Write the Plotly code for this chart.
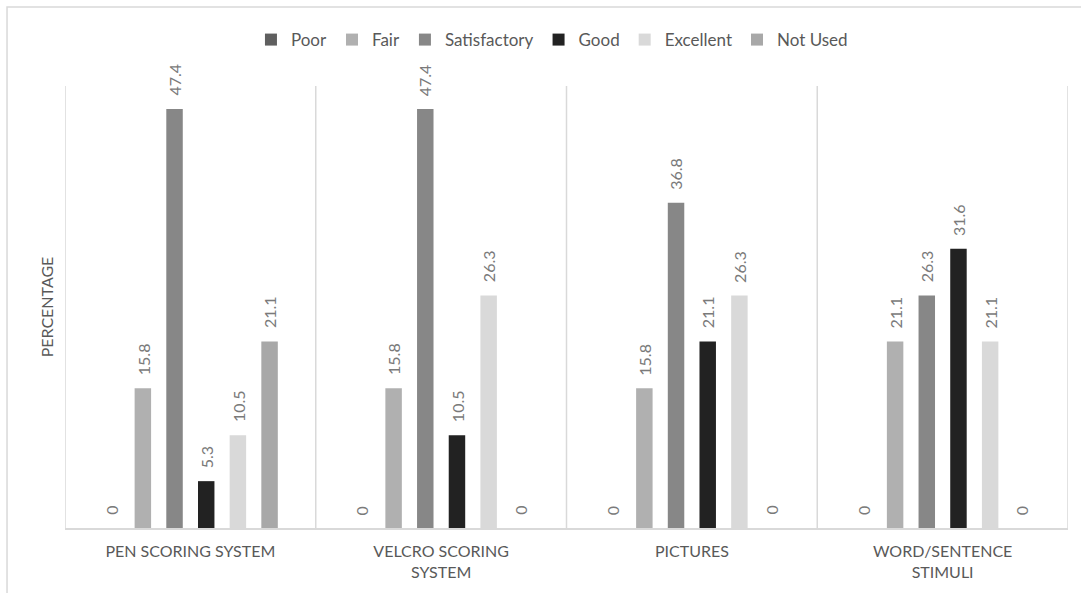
import plotly.graph_objects as go

# Rating categories and the share of respondents (%) per rating
categories = ["PEN SCORING SYSTEM", "VELCRO SCORING<br>SYSTEM", "PICTURES", "WORD/SENTENCE<br>STIMULI"]
series_names = ["Poor", "Fair", "Satisfactory", "Good", "Excellent", "Not Used"]
poor = [0, 0, 0, 0]
fair = [15.8, 15.8, 15.8, 21.1]
satisfactory = [47.4, 47.4, 36.8, 26.3]
good = [5.3, 10.5, 21.1, 31.6]
excellent = [10.5, 26.3, 26.3, 21.1]
not_used = [21.1, 0, 0, 0]

values = [poor, fair, satisfactory, good, excellent, not_used]
colors = ["#5f5f5f", "#b0b0b0", "#878787", "#222222", "#d9d9d9", "#a8a8a8"]

FONT = "Lato, 'Open Sans', sans-serif"
TEXT_DARK = "#595959"
LABEL_GREY = "#7a7a7a"
LINE_GREY = "#d9d9d9"
BARGAP = 0.242

x_idx = list(range(len(categories)))

fig = go.Figure()
for name, vals, col in zip(series_names, values, colors):
    fig.add_trace(go.Bar(
        name=name, x=x_idx, y=vals,
        marker=dict(color=col, line=dict(width=0)),
        hoverinfo="x+y+name",
    ))

# Value labels above each bar, rotated to read bottom-up
n = len(series_names)
slot = (1 - BARGAP) / n
annotations = []
for i, vals in enumerate(values):
    for c, v in enumerate(vals):
        annotations.append(dict(
            x=c + (i - (n - 1) / 2) * slot, y=v, xref="x", yref="y",
            text=f"{v:g}", showarrow=False, textangle=-90,
            xanchor="center", yanchor="bottom", yshift=11,
            font=dict(family=FONT, size=16, color=LABEL_GREY),
        ))

# Category separators (also forming the left and right frame of the plot)
shapes = []
for b in [-0.5, 0.5, 1.5, 2.5, 3.5]:
    shapes.append(dict(type="line", xref="x", yref="paper", x0=b, x1=b, y0=0, y1=1,
                       line=dict(color=LINE_GREY, width=1.5), layer="below"))

# Outer chart border
shapes.append(dict(type="rect", xref="paper", yref="paper",
                   x0=-0.0578, x1=1.03, y0=-0.2, y1=1.1787,
                   line=dict(color=LINE_GREY, width=1.5), fillcolor="rgba(0,0,0,0)",
                   layer="below"))

fig.update_layout(
    width=1081, height=593,
    margin=dict(l=65, r=13, t=86, b=65),
    paper_bgcolor="white", plot_bgcolor="white",
    barmode="group", bargap=BARGAP, bargroupgap=0.48,
    font=dict(family=FONT, color=TEXT_DARK),
    legend=dict(orientation="h", x=0.4855, xanchor="center", y=1.104, yanchor="middle",
                font=dict(family=FONT, size=17, color=TEXT_DARK),
                itemwidth=30, traceorder="normal", bgcolor="rgba(0,0,0,0)"),
    xaxis=dict(
        tickmode="array", tickvals=x_idx, ticktext=categories,
        range=[-0.5, 3.5], showline=True, linecolor=LINE_GREY, linewidth=2,
        showgrid=False, zeroline=False, ticks="",
        tickfont=dict(family=FONT, size=16, color=TEXT_DARK),
        ticklabelstandoff=8,
    ),
    yaxis=dict(
        range=[0, 50], showticklabels=False, showgrid=False, zeroline=False,
        showline=False, ticks="",
        title=dict(text="PERCENTAGE", standoff=6,
                   font=dict(family=FONT, size=16, color=TEXT_DARK)),
    ),
    annotations=annotations,
    shapes=shapes,
)

fig.write_html("out.html")
